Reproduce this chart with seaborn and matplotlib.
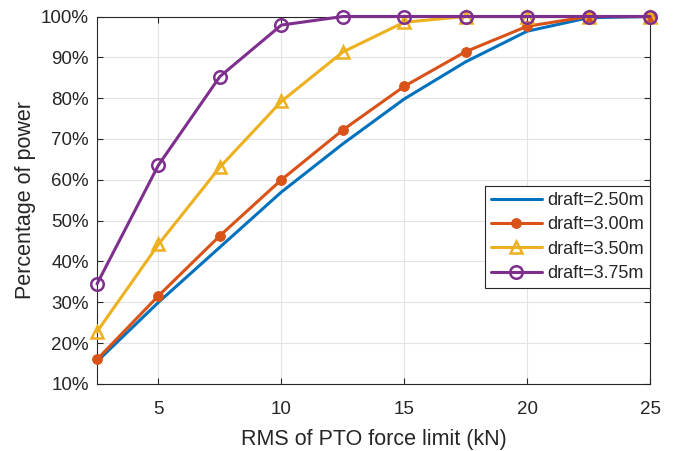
import numpy as np
import pandas as pd
import matplotlib
matplotlib.use("Agg")
import matplotlib.pyplot as plt
import seaborn as sns
from matplotlib.ticker import FuncFormatter

# -------------------------------------------------
# data
# -------------------------------------------------
force_limit = [2.5, 5, 7.5, 10, 12.5, 15, 17.5, 20, 22.5, 25]
power_250 = [15.5, 30.0, 43.5, 57.0, 68.8, 79.8, 88.9, 96.4, 99.7, 100.0]
power_300 = [16.0, 31.6, 46.3, 60.0, 72.2, 82.9, 91.4, 97.6, 100.0, 100.0]
power_350 = [22.8, 44.2, 63.1, 79.2, 91.3, 98.6, 100.0, 100.0, 100.0, 100.0]
power_375 = [34.5, 63.6, 85.3, 97.9, 100.0, 100.0, 100.0, 100.0, 100.0, 100.0]
labels = ["draft=2.50m", "draft=3.00m", "draft=3.50m", "draft=3.75m"]

colors = ["#0072BD", "#D95319", "#EDB120", "#7E2F8E"]

df = pd.DataFrame({
    "force": force_limit * 4,
    "power": power_250 + power_300 + power_350 + power_375,
    "series": [lab for lab in labels for _ in force_limit],
})

# -------------------------------------------------
# plot
# -------------------------------------------------
sns.set_style("whitegrid")
plt.rcParams["font.family"] = ["Liberation Sans", "DejaVu Sans"]

fig = plt.figure(figsize=(6.75, 4.51), dpi=100)
ax = fig.add_axes([0.1437, 0.1486, 0.8193, 0.8148])

marker_kw = [
    dict(marker=None),
    dict(marker="o", markersize=7, markerfacecolor=colors[1], markeredgecolor=colors[1]),
    dict(marker="^", markersize=9, markerfacecolor="none", markeredgewidth=1.8, markeredgecolor=colors[2]),
    dict(marker="o", markersize=9, markerfacecolor="none", markeredgewidth=1.8, markeredgecolor=colors[3]),
]

for lab, col, mk in zip(labels, colors, marker_kw):
    sub = df[df["series"] == lab]
    sns.lineplot(data=sub, x="force", y="power", ax=ax, color=col, linewidth=2.2,
                 label=lab, clip_on=False, zorder=3, **mk)

ax.set_xlim(2.5, 25)
ax.set_ylim(10, 100)
ax.set_xticks([5, 10, 15, 20, 25])
ax.set_yticks(np.arange(10, 101, 10))
ax.yaxis.set_major_formatter(FuncFormatter(lambda v, p: f"{int(round(v))}%"))

ax.grid(True, color="#e3e3e3", linewidth=0.8)
for s in ax.spines.values():
    s.set_visible(True)
    s.set_color("#262626")
    s.set_linewidth(0.8)

ax.tick_params(axis="both", which="both", direction="in", length=4, width=0.8,
               color="#262626", labelsize=13.5, labelcolor="#262626",
               top=True, right=True, bottom=True, left=True)
ax.tick_params(axis="x", pad=12)
ax.tick_params(axis="y", pad=6)

ax.set_xlabel("RMS of PTO force limit (kN)", fontsize=15.5, color="#262626", labelpad=8)
ax.set_ylabel("Percentage of power", fontsize=15.5, color="#262626", labelpad=3)

leg = ax.legend(loc="center right", bbox_to_anchor=(1.0, 0.40), fontsize=13,
                frameon=True, fancybox=False, framealpha=1, edgecolor="#262626",
                handlelength=2.8, handletextpad=0.3, borderpad=0.35, labelspacing=0.4,
                borderaxespad=0)
leg.get_frame().set_linewidth(0.8)

fig.savefig("out.png", dpi=100)
